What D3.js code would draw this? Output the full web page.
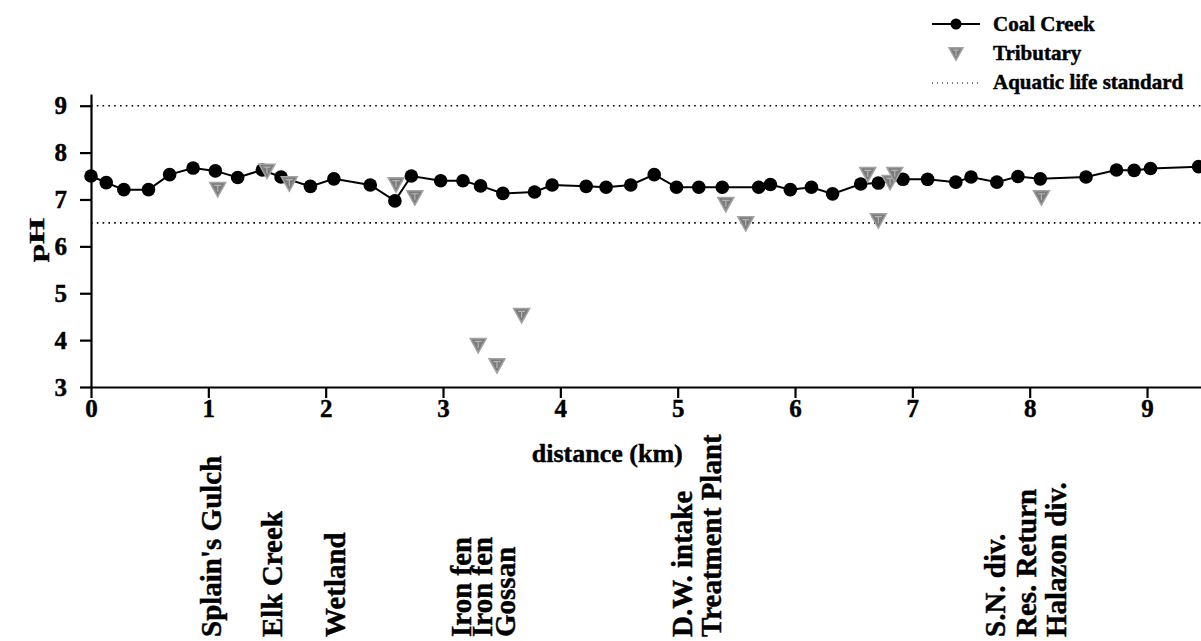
<!DOCTYPE html>
<html>
<head>
<meta charset="utf-8">
<script src="https://cdn.jsdelivr.net/npm/d3@7"></script>
<style>
  html, body { margin: 0; padding: 0; background: #fff; }
  svg { display: block; font-family: "Liberation Serif", "Times New Roman", serif; font-weight: bold; }
  svg text { stroke: #000; stroke-width: 0.45px; fill: #000; }
</style>
</head>
<body>
<svg id="chart" width="1201" height="641"></svg>
<script>
// Coal Creek main-stem samples: distance downstream (km) and pH
const creekKm = [0, 0.13, 0.28, 0.49, 0.67, 0.87, 1.06, 1.25, 1.46, 1.62,
  1.87, 2.07, 2.38, 2.59, 2.73, 2.98, 3.17, 3.32, 3.51, 3.78,
  3.93, 4.22, 4.39, 4.6, 4.8, 4.99, 5.18, 5.38, 5.69, 5.79,
  5.96, 6.14, 6.32, 6.56, 6.71, 6.92, 7.13, 7.37, 7.5, 7.72,
  7.9, 8.09, 8.48, 8.74, 8.89, 9.03, 9.44];
const creekPH = [7.5, 7.36, 7.21, 7.21, 7.53, 7.67, 7.61, 7.47, 7.63, 7.48,
  7.28, 7.44, 7.31, 6.97, 7.5, 7.4, 7.4, 7.29, 7.13, 7.16,
  7.31, 7.28, 7.26, 7.31, 7.53, 7.26, 7.26, 7.26, 7.26, 7.32,
  7.21, 7.26, 7.12, 7.33, 7.35, 7.43, 7.43, 7.37, 7.48, 7.37,
  7.49, 7.44, 7.48, 7.63, 7.62, 7.66, 7.7];

// Tributary inflows
const tribKm = [1.08, 1.5, 1.69, 2.6, 2.76, 3.3, 3.46, 3.67, 5.41, 5.58, 6.62, 6.71, 6.81, 6.85, 8.1];
const tribPH = [7.21, 7.6, 7.33, 7.31, 7.03, 3.88, 3.45, 4.52, 6.89, 6.48, 7.53, 6.54, 7.36, 7.53, 7.03];

// Aquatic life standard limits
const standardPH = [9, 6.5];

// Named sites along the creek
const siteNames = ["Splain's Gulch", "Elk Creek", "Wetland", "Iron fen", "Iron fen", "Gossan",
  "D.W. intake", "Treatment Plant", "S.N. div.", "Res. Return", "Halazon div."];
const siteKm = [1.03, 1.55, 2.08, 3.16, 3.34, 3.53, 5.04, 5.29, 7.71, 7.97, 8.23];

// Axis ticks
const xTicks = [0, 1, 2, 3, 4, 5, 6, 7, 8, 9];
const yTicks = [3, 4, 5, 6, 7, 8, 9];

const svg = d3.select("#chart");

const x = d3.scaleLinear().domain([0, 9.46]).range([91, 1201]);
const y = d3.scaleLinear().domain([3, 9.25]).range([387, 94]);

// Standard lines
svg.append("g").selectAll("line").data(standardPH).join("line")
  .attr("x1", x(0)).attr("x2", x(9.46))
  .attr("y1", d => y(d)).attr("y2", d => y(d))
  .attr("stroke", "#000").attr("stroke-width", 1.6)
  .attr("stroke-dasharray", "1.6,4.2");

// Axes
const yAxis = d3.axisLeft(y).tickValues(yTicks).tickFormat(d3.format("d"))
  .tickSize(11).tickSizeOuter(0).tickPadding(13);
const gy = svg.append("g").attr("transform", `translate(${x(0)},0)`).call(yAxis);
const xAxis = d3.axisBottom(x).tickValues(xTicks).tickFormat(d3.format("d"))
  .tickSize(11).tickSizeOuter(0).tickPadding(1);
const gx = svg.append("g").attr("transform", `translate(0,${y(3)})`).call(xAxis);

[gx, gy].forEach(g => {
  g.select(".domain").attr("stroke", "#000").attr("stroke-width", 2.2);
  g.selectAll(".tick line").attr("stroke", "#000").attr("stroke-width", 2.2);
  g.selectAll(".tick text")
    .attr("fill", "#000")
    .style("font-family", "'Liberation Serif', serif")
    .style("font-weight", "bold")
    .style("font-size", "25px");
});
gx.selectAll(".tick text").attr("dy", "0.71em");

// Axis titles
svg.append("text")
  .attr("transform", `translate(${x(4.4)},462)`)
  .attr("text-anchor", "middle")
  .style("font-size", "26px")
  .text("distance (km)");

svg.append("text")
  .attr("transform", "translate(44,240) rotate(-90) scale(1.5,1)")
  .attr("text-anchor", "middle")
  .style("font-size", "22px")
  .text("pH");

// Coal Creek line and markers
const creek = creekKm.map((d, i) => [d, creekPH[i]]);
svg.append("path")
  .datum(creek)
  .attr("fill", "none").attr("stroke", "#000").attr("stroke-width", 2)
  .attr("d", d3.line().x(d => x(d[0])).y(d => y(d[1])));
svg.append("g").selectAll("circle").data(creek).join("circle")
  .attr("cx", d => x(d[0])).attr("cy", d => y(d[1]))
  .attr("r", 6.8).attr("fill", "#000");

// Tributary marker: downward triangle, grey with lighter inner trim
function tribMarker(g, cx, cy, s) {
  const h = s * 0.9;
  const tri = `M${cx - s / 2},${cy - h / 2} L${cx + s / 2},${cy - h / 2} L${cx},${cy + h / 2} Z`;
  g.append("path").attr("d", tri).attr("fill", "#7b7b7b").attr("stroke", "#a3a3a3").attr("stroke-width", 1.5);
  const k = 0.45;
  const inner = `M${cx - s * k / 2},${cy - h * 0.3} L${cx + s * k / 2},${cy - h * 0.3} M${cx},${cy - h * 0.3} L${cx},${cy + h * 0.15}`;
  g.append("path").attr("d", inner).attr("fill", "none").attr("stroke", "#b5b5b5").attr("stroke-width", 1.2);
}
const tribG = svg.append("g");
tribKm.forEach((d, i) => tribMarker(tribG, x(d), y(tribPH[i]), 16));

// Site labels under the axis
svg.append("g").selectAll("text").data(siteNames).join("text")
  .attr("transform", (d, i) => `translate(${x(siteKm[i])},637) rotate(-90)`)
  .attr("dy", "0.33em")
  .attr("text-anchor", "start")
  .style("font-size", "29px")
  .text(d => d);

// Legend
const lg = svg.append("g");
lg.append("line").attr("x1", 932).attr("x2", 980).attr("y1", 24).attr("y2", 24)
  .attr("stroke", "#000").attr("stroke-width", 2);
lg.append("circle").attr("cx", 956).attr("cy", 24).attr("r", 5.5).attr("fill", "#000");
lg.append("text").attr("x", 993).attr("y", 31).style("font-size", "21px").text("Coal Creek");
tribMarker(lg, 956, 54, 14);
lg.append("text").attr("x", 993).attr("y", 60).style("font-size", "21px").text("Tributary");
lg.append("line").attr("x1", 932).attr("x2", 978).attr("y1", 83).attr("y2", 83)
  .attr("stroke", "#000").attr("stroke-width", 1).attr("stroke-dasharray", "1,4");
lg.append("text").attr("x", 993).attr("y", 89).style("font-size", "21px").text("Aquatic life standard");
</script>
</body>
</html>
